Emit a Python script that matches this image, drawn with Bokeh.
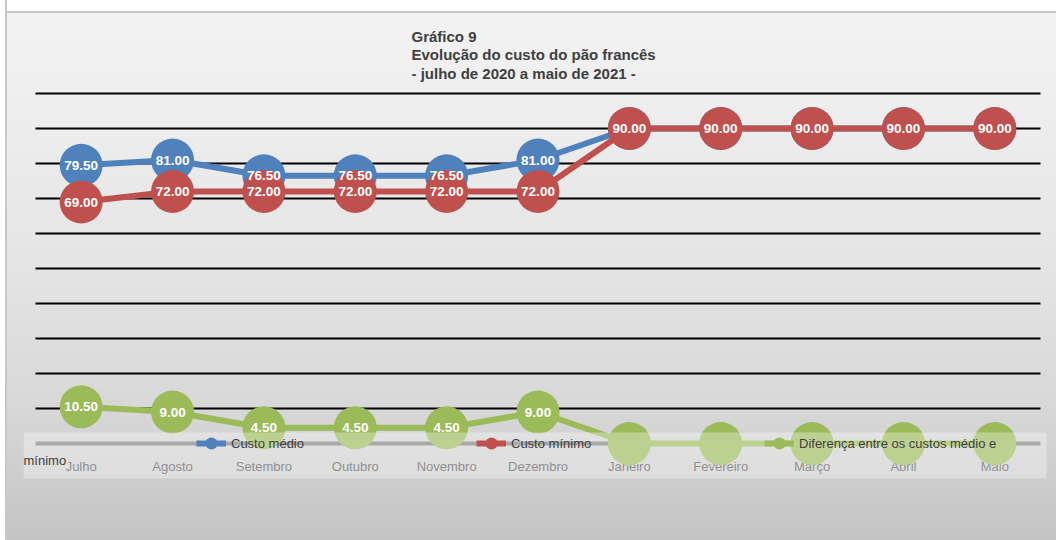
from bokeh.plotting import figure
from bokeh.models import (ColumnDataSource, FactorRange, Range1d, FixedTicker, Legend,
                          LegendItem, Label, BoxAnnotation)
from bokeh.core.properties import value
from bokeh.embed import file_html
from bokeh.resources import INLINE

# ---- data ----
months = ["Julho", "Agosto", "Setembro", "Outubro", "Novembro", "Dezembro",
          "Janeiro", "Fevereiro", "Março", "Abril", "Maio"]
custo_medio = [79.50, 81.00, 76.50, 76.50, 76.50, 81.00, 90.00, 90.00, 90.00, 90.00, 90.00]
custo_minimo = [69.00, 72.00, 72.00, 72.00, 72.00, 72.00, 90.00, 90.00, 90.00, 90.00, 90.00]
diferenca = [10.50, 9.00, 4.50, 4.50, 4.50, 9.00, 0.00, 0.00, 0.00, 0.00, 0.00]
legend_labels = ["Custo médio", "Custo mínimo", "Diferença entre os custos médio e", "mínimo"]
title_lines = ["Gráfico 9", "Evolução do custo do pão francês", "-  julho de 2020 a maio de 2021 -"]
grid_ticks = [10, 20, 30, 40, 50, 60, 70, 80, 90, 100]

BLUE, RED, GREEN = "#4f81bd", "#c0504d", "#9bbb59"
FONT = "Liberation Sans"

W, H = 1056, 540
bg = ("linear-gradient(to right, #ffffff 0px, #ffffff 5px, #c8c8c8 5px, #c8c8c8 7px, transparent 7px), "
      "linear-gradient(to bottom, #ffffff 0px, #ffffff 11px, #c8c8c8 11px, #c8c8c8 13px, "
      "#f3f3f3 13px, #e6e6e6 45%, #d8d8d8 75%, #c4c4c4 100%)")

p = figure(width=W, height=H,
           x_range=FactorRange(factors=months, range_padding=0.1313, range_padding_units="absolute"),
           y_range=Range1d(-27.71, 101.43), output_backend="svg", toolbar_location=None,
           min_border_left=23, min_border_right=4, min_border_top=88, min_border_bottom=0,
           title="\n".join(title_lines),
           styles={"background-image": bg})
p.background_fill_alpha = 0
p.border_fill_alpha = 0
p.outline_line_color = None

p.title.align = "left"
p.title.offset = 388
p.title.standoff = 13
p.title.text_font = FONT
p.title.text_font_size = "15px"
p.title.text_font_style = "bold"
p.title.text_color = "#404040"
p.title.text_line_height = 1.1

p.yaxis.visible = False
p.xgrid.visible = False
yg = p.ygrid[0]
yg.ticker = FixedTicker(ticks=grid_ticks)
yg.grid_line_color = "black"
yg.grid_line_width = 2
if "cross_bounds" in yg.properties():
    yg.cross_bounds = (0, len(months))

xa = p.xaxis[0]
xa.fixed_location = 0
xa.bounds = (0, len(months))
xa.level = "underlay"
xa.axis_line_color = "#7f7f7f"
xa.axis_line_width = 4
xa.major_tick_line_color = None
xa.minor_tick_line_color = None
xa.major_tick_out = 0
xa.major_tick_in = 0
xa.major_label_standoff = 15
xa.major_label_text_font = FONT
xa.major_label_text_font_size = "13px"
xa.major_label_text_color = "#595959"

def fmt(v):
    return "%.2f" % v

src_g = ColumnDataSource(dict(x=months, y=diferenca))
src_b = ColumnDataSource(dict(x=months, y=custo_medio))
src_r = ColumnDataSource(dict(x=months, y=custo_minimo))

lg = p.line("x", "y", source=src_g, line_width=6, color=GREEN, line_join="round")
sg = p.scatter("x", "y", source=src_g, size=43, marker="circle", fill_color=GREEN, line_color=None)
lb = p.line("x", "y", source=src_b, line_width=6, color=BLUE, line_join="round")
sb = p.scatter("x", "y", source=src_b, size=43, marker="circle", fill_color=BLUE, line_color=None)
lr = p.line("x", "y", source=src_r, line_width=6, color=RED, line_join="round")
sr = p.scatter("x", "y", source=src_r, size=43, marker="circle", fill_color=RED, line_color=None)

# data labels (only those visible in the original)
bx = [m for m, a, b in zip(months, custo_medio, custo_minimo) if a != b]
by = [a for a, b in zip(custo_medio, custo_minimo) if a != b]
gx = [m for m, d in zip(months, diferenca) if d > 0]
gy = [d for d in diferenca if d > 0]
lab = ColumnDataSource(dict(
    x=gx + bx + months,
    y=gy + by + custo_minimo,
    t=[fmt(v) for v in gy + by + custo_minimo]))
p.text("x", "y", text="t", source=lab, text_color="white", text_font=value(FONT),
       text_font_style="bold", text_font_size="13.5px", text_align="center",
       text_baseline="middle")

# legend background box
p.add_layout(BoxAnnotation(left=0, right=1023, bottom=62, top=108,
                           left_units="screen", right_units="screen",
                           bottom_units="screen", top_units="screen",
                           fill_color="white", fill_alpha=0.33, line_color=None))

def add_legend(label, rends, vx):
    leg = Legend(items=[LegendItem(label=label, renderers=rends)], location=(vx, 80),
                 orientation="horizontal", glyph_width=30, glyph_height=34,
                 label_standoff=5, padding=0, margin=0, spacing=0,
                 border_line_color=None, background_fill_alpha=0,
                 label_text_font=FONT, label_text_font_size="13px",
                 label_text_color="#404040")
    p.add_layout(leg)

add_legend(legend_labels[0], [lb, sb], 173)
add_legend(legend_labels[1], [lr, sr], 453)
add_legend(legend_labels[2], [lg, sg], 741)
p.add_layout(Label(x=0, y=80, x_units="screen", y_units="screen", text=legend_labels[3],
                   text_baseline="middle", text_font=FONT, text_font_size="13px",
                   text_color="#404040"))

open("out.html", "w").write(file_html(p, INLINE))
